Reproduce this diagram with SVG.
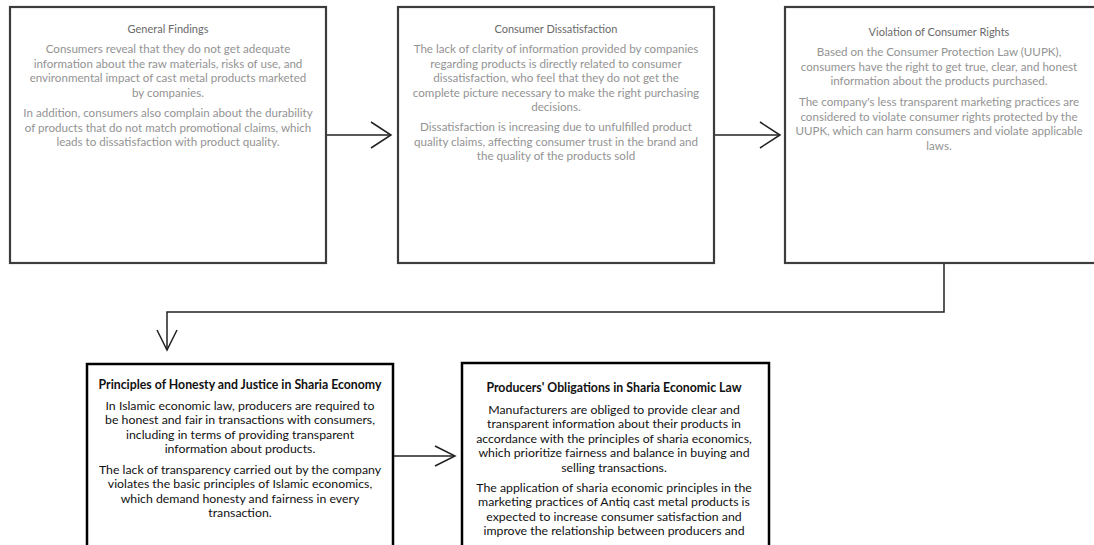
<svg xmlns="http://www.w3.org/2000/svg" width="1094" height="545" viewBox="0 0 1094 545">
<style>
.bg{fill:#ffffff}
.topbox{fill:#ffffff;stroke:#3c3c3c;stroke-width:2.2}
.botbox{fill:#ffffff;stroke:#000000;stroke-width:2.5}
.tt{font-family:Lato,"Liberation Sans",sans-serif;font-size:11px;fill:#6a6a6a;text-anchor:middle}
.tb{font-family:Lato,"Liberation Sans",sans-serif;font-size:11.6px;fill:#939393;text-anchor:middle}
.bt{font-family:Lato,"Liberation Sans",sans-serif;font-size:12.3px;font-weight:bold;fill:#111111;text-anchor:middle}
.bb{font-family:Lato,"Liberation Sans",sans-serif;font-size:12.3px;fill:#111111;text-anchor:middle}
.conn{fill:none;stroke:#222222;stroke-width:1.5}
</style>
<defs>
<marker id="arrowBig" markerUnits="userSpaceOnUse" markerWidth="24" markerHeight="30" refX="21" refY="14" orient="auto">
<path d="M1,1 L21,14 L1,27" fill="none" stroke="#222222" stroke-width="1.5"/>
</marker>
<marker id="arrow" markerUnits="userSpaceOnUse" markerWidth="24" markerHeight="24" refX="21" refY="11" orient="auto">
<path d="M1,1 L21,11 L1,21" fill="none" stroke="#222222" stroke-width="1.5"/>
</marker>
</defs>
<rect class="bg" x="0" y="0" width="1094" height="545"/>

<g id="connectors">
<line class="conn" x1="326" y1="135" x2="391" y2="135" marker-end="url(#arrowBig)"/>
<line class="conn" x1="714" y1="135" x2="780" y2="135" marker-end="url(#arrowBig)"/>
<polyline class="conn" points="944,263 944,312 167,312 167,350" marker-end="url(#arrow)"/>
<line class="conn" x1="393" y1="456" x2="455" y2="456" marker-end="url(#arrow)"/>
</g>

<g id="general-findings">
<rect class="topbox" x="10" y="7" width="316" height="256"/>
<text class="tt" x="168" y="33">General Findings</text>
<text class="tb" x="168" y="53">Consumers reveal that they do not get adequate</text>
<text class="tb" x="168" y="67.5">information about the raw materials, risks of use, and</text>
<text class="tb" x="168" y="82">environmental impact of cast metal products marketed</text>
<text class="tb" x="168" y="96.5">by companies.</text>
<text class="tb" x="168" y="117">In addition, consumers also complain about the durability</text>
<text class="tb" x="168" y="131.5">of products that do not match promotional claims, which</text>
<text class="tb" x="168" y="146">leads to dissatisfaction with product quality.</text>
</g>

<g id="consumer-dissatisfaction">
<rect class="topbox" x="398" y="7" width="316" height="256"/>
<text class="tt" x="556" y="33">Consumer Dissatisfaction</text>
<text class="tb" x="556" y="53">The lack of clarity of information provided by companies</text>
<text class="tb" x="556" y="67.5">regarding products is directly related to consumer</text>
<text class="tb" x="556" y="82">dissatisfaction, who feel that they do not get the</text>
<text class="tb" x="556" y="96.5">complete picture necessary to make the right purchasing</text>
<text class="tb" x="556" y="111">decisions.</text>
<text class="tb" x="556" y="131">Dissatisfaction is increasing due to unfulfilled product</text>
<text class="tb" x="556" y="145.5">quality claims, affecting consumer trust in the brand and</text>
<text class="tb" x="556" y="160">the quality of the products sold</text>
</g>

<g id="violation-consumer-rights">
<rect class="topbox" x="785" y="7" width="320" height="256"/>
<text class="tt" x="939" y="36">Violation of Consumer Rights</text>
<text class="tb" x="939" y="56">Based on the Consumer Protection Law (UUPK),</text>
<text class="tb" x="939" y="70.5">consumers have the right to get true, clear, and honest</text>
<text class="tb" x="939" y="85">information about the products purchased.</text>
<text class="tb" x="939" y="106">The company's less transparent marketing practices are</text>
<text class="tb" x="939" y="120.5">considered to violate consumer rights protected by the</text>
<text class="tb" x="939" y="135">UUPK, which can harm consumers and violate applicable</text>
<text class="tb" x="939" y="149.5">laws.</text>
</g>

<g id="principles-honesty-justice">
<rect class="botbox" x="87" y="364" width="306" height="200"/>
<text class="bt" x="240" y="388.5">Principles of Honesty and Justice in Sharia Economy</text>
<text class="bb" x="240" y="409.5">In Islamic economic law, producers are required to</text>
<text class="bb" x="240" y="424">be honest and fair in transactions with consumers,</text>
<text class="bb" x="240" y="438.5">including in terms of providing transparent</text>
<text class="bb" x="240" y="453">information about products.</text>
<text class="bb" x="240" y="473.5">The lack of transparency carried out by the company</text>
<text class="bb" x="240" y="488">violates the basic principles of Islamic economics,</text>
<text class="bb" x="240" y="502.5">which demand honesty and fairness in every</text>
<text class="bb" x="240" y="517">transaction.</text>
</g>

<g id="producers-obligations">
<rect class="botbox" x="462" y="363" width="307" height="200"/>
<text class="bt" x="614" y="391.5">Producers' Obligations in Sharia Economic Law</text>
<text class="bb" x="614" y="413.5">Manufacturers are obliged to provide clear and</text>
<text class="bb" x="614" y="428">transparent information about their products in</text>
<text class="bb" x="614" y="442.5">accordance with the principles of sharia economics,</text>
<text class="bb" x="614" y="457">which prioritize fairness and balance in buying and</text>
<text class="bb" x="614" y="471.5">selling transactions.</text>
<text class="bb" x="614" y="491.5">The application of sharia economic principles in the</text>
<text class="bb" x="614" y="506">marketing practices of Antiq cast metal products is</text>
<text class="bb" x="614" y="520.5">expected to increase consumer satisfaction and</text>
<text class="bb" x="614" y="535">improve the relationship between producers and</text>
</g>
</svg>
